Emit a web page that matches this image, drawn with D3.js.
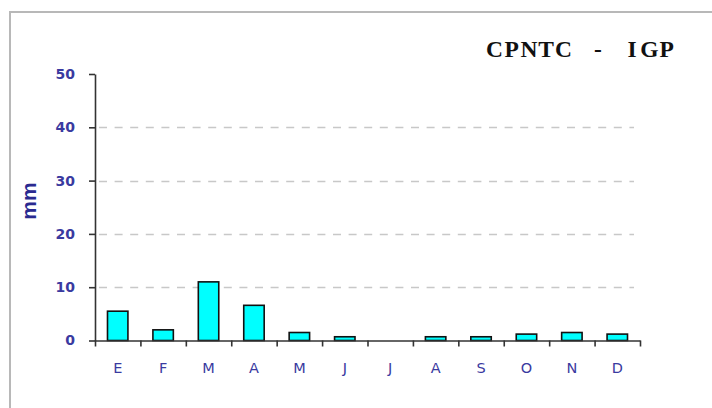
<!DOCTYPE html>
<html>
<head>
<meta charset="utf-8">
<script src="https://cdn.jsdelivr.net/npm/d3@7"></script>
<style>
  html, body { margin: 0; padding: 0; background: #fff; }
  svg { display: block; }
</style>
</head>
<body>
<svg id="chart" width="712" height="408"></svg>
<script>
// Monthly precipitation (mm)
const months = ["E", "F", "M", "A", "M", "J", "J", "A", "S", "O", "N", "D"];
const rainfall = [5.5, 2.0, 11.0, 6.6, 1.5, 0.7, 0, 0.7, 0.7, 1.2, 1.5, 1.2];
const yTicks = [0, 10, 20, 30, 40, 50];
const gridTicks = [10, 20, 30, 40];
const title = "CPNTC - IGP";
const yLabel = "mm";

const svg = d3.select("#chart");
const labelColor = "#3a3aa0";
const labelFont = "'DejaVu Sans', Verdana, sans-serif";

// Outer frame
svg.append("rect")
  .attr("x", 10).attr("y", 12)
  .attr("width", 760).attr("height", 460)
  .attr("fill", "none")
  .attr("stroke", "#b8b8b8")
  .attr("stroke-width", 2);

const plot = { left: 95, right: 640, top: 74, bottom: 340.5 };

const ids = months.map((m, i) => i);
const x = d3.scaleBand()
  .domain(ids)
  .range([plot.left, plot.right])
  .paddingInner(0.55)
  .paddingOuter(0.275);

const xEdge = d3.scaleLinear().domain([0, 12]).range([plot.left, plot.right]);

const y = d3.scaleLinear().domain([0, 50]).range([plot.bottom, plot.top]);

// Dashed grid lines
svg.append("g")
  .selectAll("line")
  .data(gridTicks)
  .join("line")
  .attr("x1", plot.left + 4)
  .attr("x2", 634)
  .attr("y1", d => Math.round(y(d)) + 0.5)
  .attr("y2", d => Math.round(y(d)) + 0.5)
  .attr("stroke", "#c8c8c8")
  .attr("stroke-width", 1.5)
  .attr("stroke-dasharray", "8,7.6");

// Bars
svg.append("g")
  .selectAll("rect")
  .data(rainfall)
  .join("rect")
  .attr("x", (d, i) => x(i))
  .attr("width", x.bandwidth())
  .attr("y", d => y(d))
  .attr("height", d => y(0) - y(d))
  .attr("fill", d => d > 0 ? "#00ffff" : "none")
  .attr("stroke", d => d > 0 ? "#111" : "none")
  .attr("stroke-width", 1.6);

// Y axis
const yAxis = svg.append("g")
  .attr("transform", `translate(${plot.left},0)`)
  .call(d3.axisLeft(y).tickValues(yTicks).tickSize(6).tickSizeOuter(0).tickPadding(14));
yAxis.select(".domain").attr("stroke", "#333").attr("stroke-width", 1.6);
yAxis.selectAll(".tick line").attr("stroke", "#333").attr("stroke-width", 1.6);
yAxis.selectAll(".tick text")
  .attr("fill", labelColor)
  .style("font-family", labelFont)
  .style("font-weight", "bold")
  .style("font-size", "14px");

// X axis: line with ticks at month boundaries
const xLine = svg.append("g")
  .attr("transform", `translate(0,${plot.bottom})`)
  .call(d3.axisBottom(xEdge).tickValues(d3.range(13)).tickFormat("").tickSize(6).tickSizeOuter(0));
xLine.select(".domain").attr("stroke", "#333").attr("stroke-width", 1.6);
xLine.selectAll(".tick line").attr("stroke", "#333").attr("stroke-width", 1.6);

// X axis: month labels
const xLabels = svg.append("g")
  .attr("transform", `translate(0,${plot.bottom})`)
  .call(d3.axisBottom(x).tickSize(0).tickPadding(22).tickFormat(i => months[i]));
xLabels.select(".domain").remove();
xLabels.selectAll(".tick text")
  .attr("fill", labelColor)
  .style("font-family", labelFont)
  .style("font-size", "14.5px");

// Y axis title
svg.append("text")
  .attr("transform", "translate(36,201) rotate(-90)")
  .attr("text-anchor", "middle")
  .attr("fill", "#2a2a90")
  .style("font-family", "'Liberation Sans', Arial, sans-serif")
  .style("font-weight", "bold")
  .style("font-size", "21px")
  .text(yLabel);

// Chart title: serif letters set on a fixed monospace pitch
const titlePitch = 17.2;
const titleX = 486;
svg.append("text")
  .attr("y", 57)
  .attr("fill", "#111")
  .attr("text-anchor", "middle")
  .style("font-family", "'Liberation Serif', 'Times New Roman', serif")
  .style("font-weight", "bold")
  .style("font-size", "23.5px")
  .selectAll("tspan")
  .data(Array.from(title))
  .join("tspan")
  .attr("x", (c, i) => titleX + titlePitch * (i + 0.5))
  .text(c => c);
</script>
</body>
</html>
